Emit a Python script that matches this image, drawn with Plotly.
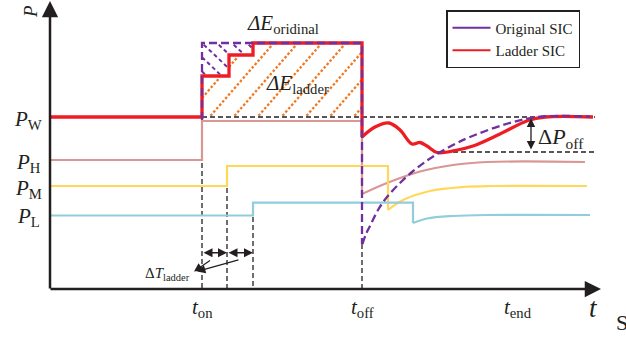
import numpy as np
import plotly.graph_objects as go

# ---- schematic data (pixel-space coordinates of the sketch: x to the right, y downward) ----
AX_X0, AX_Y0 = 50, 289          # origin of the drawn axes
T_ON, T_2, T_3, T_OFF, T_END = 202, 227, 253, 362, 518
P_TOP, P_W, P_H, P_M, P_L = 43, 117, 160, 186, 215.5

# Ladder SIC (red)
ladder_step_x = [AX_X0, T_ON, T_ON, 229, 229, T_3, T_3, T_OFF, T_OFF]
ladder_step_y = [P_W, P_W, 76, 76, 55, 55, P_TOP, P_TOP, 137]
ladder_curve_x = [362, 375, 389, 400, 412, 420, 427, 437, 455, 473, 500, 528, 545, 593]
ladder_curve_y = [137, 127, 123, 130, 144, 142.5, 146, 152.5, 150.5, 146, 134, 120.5, 117, 117]

# Original SIC (purple dashed)
orig_step_x = [T_ON, T_ON, T_OFF, T_OFF]
orig_step_y = [120, P_TOP, P_TOP, 244]
orig_curve_x = [362.5, 366, 371, 378, 387, 400, 412, 425, 437, 455, 470, 503, 537, 590]
orig_curve_y = [244, 234, 224, 210, 197, 183, 172, 162, 154, 144, 137, 125, 117, 116.5]

# P_H (pink), P_M (yellow), P_L (cyan)
ph_step_x = [AX_X0, T_ON, T_ON, T_OFF, T_OFF]
ph_step_y = [P_H, P_H, 121, 121, 194]
ph_curve_x = [362, 387, 420, 453, 487, 585]
ph_curve_y = [194, 183, 171.5, 165, 162, 162]

pm_step_x = [AX_X0, T_2, T_2, 388, 388]
pm_step_y = [P_M, P_M, 166, 166, 210]
pm_curve_x = [388, 403, 430, 463, 493, 587]
pm_curve_y = [210, 200, 191, 187, 186, 186]

pl_step_x = [AX_X0, T_3, T_3, 413, 413]
pl_step_y = [P_L, P_L, 202.7, 202.7, 223]
pl_curve_x = [413, 427, 453, 487, 590]
pl_curve_y = [223, 218.5, 216, 215, 215]

RED = '#EE1D23'
PURPLE = '#7030A0'
ORANGE = '#F07820'
PINK = '#D99694'
YELLOW = '#FFD85A'
CYAN = '#92CDDC'
BLACK = '#231F20'
FONT = 'Liberation Serif'

fig = go.Figure()


def top_ladder(x):
    return np.where(x < 229, 76, np.where(x < T_3, 55, P_TOP))


def hatch(x0_list, slope, inside, color, dash, width):
    xs, ys = [], []
    grid = np.arange(T_ON, T_OFF + 0.01, 0.25)
    for x0 in x0_list:
        y = slope(grid, x0)
        ok = inside(grid, y)
        if not ok.any():
            continue
        idx = np.where(ok)[0]
        breaks = np.where(np.diff(idx) > 1)[0]
        starts = np.r_[idx[0], idx[breaks + 1]]
        ends = np.r_[idx[breaks], idx[-1]]
        for s, e in zip(starts, ends):
            xs += [grid[s], grid[e], None]
            ys += [y[s], y[e], None]
    fig.add_trace(go.Scatter(x=xs, y=ys, mode='lines', showlegend=False, hoverinfo='skip',
                             line=dict(color=color, width=width, dash=dash)))


# orange hatching in the ladder energy area
hatch([209.5 + 24 * k for k in range(-4, 7)],
      lambda g, x0: P_W - 1.15 * (g - x0),
      lambda g, y: (y <= P_W - 1) & (y >= top_ladder(g) + 1.5),
      ORANGE, '2.5px,2px', 2.3)
# purple hatching in the extra energy area of the original SIC
hatch([187 + 15 * k for k in range(-1, 5)],
      lambda g, x1: P_TOP + 0.95 * (g - x1),
      lambda g, y: (y >= P_TOP + 1.5) & (y <= top_ladder(g) - 1.5) & (g < T_3),
      PURPLE, '4px,3px', 2)


def line(x, y, color, width, dash='solid', shape='linear'):
    fig.add_trace(go.Scatter(x=x, y=y, mode='lines', showlegend=False, hoverinfo='skip',
                             line=dict(color=color, width=width, dash=dash, shape=shape,
                                       smoothing=1.0 if shape == 'spline' else None)))


# black dashed guides
line([T_ON, 595], [P_W, P_W], BLACK, 1.3, '5px,3px')
line([437, 595], [152, 152], BLACK, 1.3, '5px,3px')
for gx, gy in [(T_ON, 163), (T_2, 188), (T_3, 217), (T_OFF, 244)]:
    line([gx, gx], [gy, AX_Y0], BLACK, 1.3, '5px,3px')

# power levels
line(ph_step_x, ph_step_y, PINK, 2.2)
line(ph_curve_x, ph_curve_y, PINK, 2.2, shape='spline')
line(pm_step_x, pm_step_y, YELLOW, 2.2)
line(pm_curve_x, pm_curve_y, YELLOW, 2.2, shape='spline')
line(pl_step_x, pl_step_y, CYAN, 2.2)
line(pl_curve_x, pl_curve_y, CYAN, 2.2, shape='spline')

# SIC curves
line(ladder_step_x, ladder_step_y, RED, 3.3)
line(ladder_curve_x, ladder_curve_y, RED, 3.3, shape='spline')
line(orig_step_x, orig_step_y, PURPLE, 2.3, '8px,4px')
line(orig_curve_x, orig_curve_y, PURPLE, 2.3, '8px,4px', shape='spline')

# legend entries (solid line symbols, as in the reference legend)
fig.add_trace(go.Scatter(x=[None], y=[None], mode='lines', name='Original SIC',
                         line=dict(color=PURPLE, width=2, dash='solid')))
fig.add_trace(go.Scatter(x=[None], y=[None], mode='lines', name='Ladder SIC',
                         line=dict(color=RED, width=2, dash='solid')))

ann = []


def arrow(hx, hy, tx, ty, width, size, side='end'):
    ann.append(dict(x=hx, y=hy, ax=tx, ay=ty, xref='x', yref='y', axref='x', ayref='y',
                    text='', showarrow=True, arrowhead=2, arrowsize=size, arrowwidth=width,
                    arrowcolor=BLACK, arrowside=side, standoff=0, startstandoff=0))


# axes
arrow(AX_X0, 1, AX_X0, AX_Y0 + 1, 2.5, 1.3)
arrow(601, AX_Y0, AX_X0 - 1, AX_Y0, 2.5, 1.3)
# delta T ladder arrows
arrow(T_2, 252.7, T_ON, 252.7, 1.5, 1.2, 'end+start')
arrow(T_3, 252.7, T_2, 252.7, 1.5, 1.2, 'end+start')
arrow(194, 271.5, 211.5, 259.5, 1.2, 1.4)
arrow(197, 271.5, 240, 259.5, 1.2, 1.4)
# delta P off
arrow(531, 118.5, 531, 151, 1.3, 1.3, 'end+start')


def text(x, y, s, size, xanchor='center', yanchor='middle', angle=0):
    ann.append(dict(x=x, y=y, xref='x', yref='y', text=s, showarrow=False,
                    xanchor=xanchor, yanchor=yanchor, textangle=angle,
                    font=dict(family=FONT, size=size, color=BLACK)))


text(30, 12, '<i>P</i>', 19, angle=-90)
text(28, 120, '<i>P</i><sub>W</sub>', 21)
text(28, 163, '<i>P</i><sub>H</sub>', 21)
text(28, 189, '<i>P</i><sub>M</sub>', 21)
text(28, 217, '<i>P</i><sub>L</sub>', 21)
text(T_ON, 308, '<i>t</i><sub>on</sub>', 21)
text(T_OFF, 308, '<i>t</i><sub>off</sub>', 21)
text(T_END, 308, '<i>t</i><sub>end</sub>', 21)
text(593, 308, '<i>t</i>', 27)
text(614, 322, 'S', 22, xanchor='left')
text(283, 24, '<i>ΔE</i><sub>oridinal</sub>', 21)
text(297, 84, '<i>ΔE</i><sub>ladder</sub>', 21)
text(561, 138, 'Δ<i>P</i><sub>off</sub>', 22)
text(167, 274, 'Δ<i>T</i><sub>ladder</sub>', 15)

fig.update_layout(
    width=626, height=337,
    margin=dict(l=0, r=0, t=0, b=0),
    paper_bgcolor='white', plot_bgcolor='white',
    xaxis=dict(range=[0, 626], visible=False, fixedrange=True),
    yaxis=dict(range=[337, 0], visible=False, fixedrange=True),
    annotations=ann,
    showlegend=True,
    legend=dict(x=446 / 626, y=1 - 10 / 337, xanchor='left', yanchor='top',
                bordercolor=BLACK, borderwidth=1.5, bgcolor='white', itemwidth=38,
                font=dict(family=FONT, size=15, color=BLACK), tracegroupgap=0),
)

fig.write_html('out.html')
